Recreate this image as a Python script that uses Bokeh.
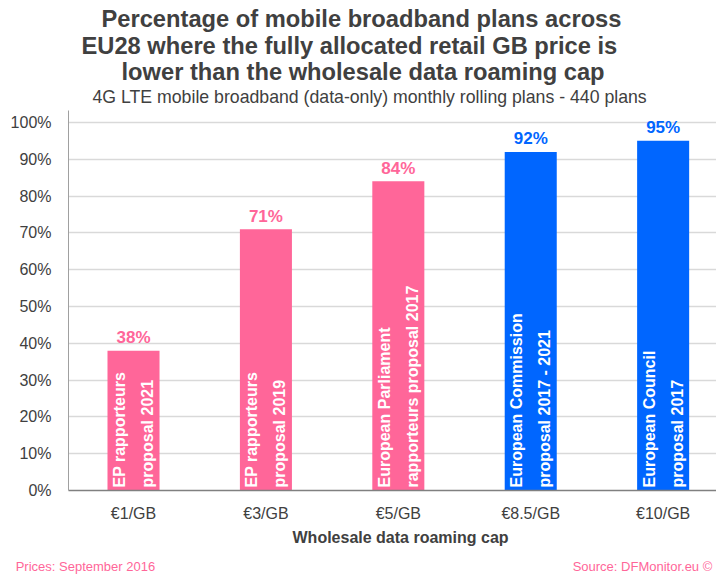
import math
from bokeh.plotting import figure
from bokeh.models import (Range1d, FixedTicker, Title, ColumnDataSource,
                          PrintfTickFormatter, LinearAxis)
from bokeh.core.properties import value
from bokeh.embed import file_html
from bokeh.resources import INLINE

# ---- data ----
categories = ["€1/GB", "€3/GB", "€5/GB", "€8.5/GB", "€10/GB"]
percent_below_cap = [38, 71, 84, 92, 95]
proposal_line1 = ["EP rapporteurs", "EP rapporteurs", "European Parliament",
                  "European Commission", "European Council"]
proposal_line2 = ["proposal  2021", "proposal  2019", "rapporteurs  proposal  2017",
                  "proposal  2017 - 2021", "proposal  2017"]
proposer = ["EP", "EP", "EP", "Commission", "Council"]
y_ticks = [0, 10, 20, 30, 40, 50, 60, 70, 80, 90, 100]
footer_texts = ["Prices: September 2016", "Source: DFMonitor.eu ©"]

PINK = "#FF6699"
BLUE = "#0066FF"
colour_of = {"EP": PINK, "Commission": BLUE, "Council": BLUE}
FONT = "Liberation Sans"
DARK = "#404040"

xs = [i + 0.5 for i in range(len(categories))]
src = ColumnDataSource(dict(
    x=xs,
    y=percent_below_cap,
    color=[colour_of[p] for p in proposer],
    label=[f"{v}%" for v in percent_below_cap],
    inner=[a + "\n" + b for a, b in zip(proposal_line1, proposal_line2)],
    zero=[0] * len(categories),
))

# a little head-room above 100% so the top value label is not clipped
p = figure(width=716, height=576, output_backend="svg", toolbar_location=None,
           x_range=Range1d(0.009, 4.903), y_range=Range1d(0, 103.25),
           min_border_left=68, min_border_right=0, min_border_top=110,
           min_border_bottom=85)
p.outline_line_color = None
p.background_fill_color = "white"
p.border_fill_color = "white"

p.vbar(x="x", top="y", width=0.393, bottom=0, color="color", line_color=None, source=src)

# value labels
p.text(x="x", y="y", text="label", source=src, text_color="color",
       text_font=value(FONT), text_font_style="bold", text_font_size="17px",
       text_align="center", text_baseline="alphabetic", y_offset=-13)

# rotated labels inside bars
p.text(x="x", y="zero", text="inner", source=src, text_color="white",
       text_font=value(FONT), text_font_style="bold", text_font_size="16px",
       angle=math.pi / 2, text_align="left", text_baseline="middle",
       text_line_height=1.65, y_offset=-3)

# axes
p.xaxis.ticker = FixedTicker(ticks=xs)
p.xaxis.major_label_overrides = {x: c for x, c in zip(xs, categories)}
p.xaxis.major_tick_line_color = None
p.xaxis.minor_tick_line_color = None
p.xaxis.axis_line_color = "#808080"
p.xaxis.axis_line_width = 1.5
p.xaxis.major_label_text_font = FONT
p.xaxis.major_label_text_font_size = "16px"
p.xaxis.major_label_text_color = DARK
p.xaxis.major_label_standoff = 8
p.xgrid.grid_line_color = None

p.yaxis.ticker = FixedTicker(ticks=y_ticks)
p.yaxis.formatter = PrintfTickFormatter(format="%d%%")
p.yaxis.major_tick_line_color = None
p.yaxis.minor_tick_line_color = None
p.yaxis.axis_line_color = "#a0a0a0"
p.yaxis.major_label_text_font = FONT
p.yaxis.major_label_text_font_size = "16px"
p.yaxis.major_label_text_color = DARK
p.yaxis.major_label_standoff = 11
p.ygrid.grid_line_color = "#d9d9d9"
p.ygrid.grid_line_width = 1.5

# x axis title (below)
p.add_layout(Title(text="Wholesale data roaming cap", align="left", offset=224,
                   text_font=FONT, text_font_size="16px", text_font_style="bold",
                   text_color=DARK, standoff=4), "below")

# footer line: an unlined axis carrying the two notes
foot_pos = [0.137, 4.344]
foot = LinearAxis(ticker=FixedTicker(ticks=foot_pos),
                  major_label_overrides={x: t for x, t in zip(foot_pos, footer_texts)})
foot.axis_line_color = None
foot.major_tick_line_color = None
foot.minor_tick_line_color = None
foot.major_label_text_font = FONT
foot.major_label_text_font_size = "13px"
foot.major_label_text_color = PINK
foot.major_label_standoff = 5
p.add_layout(foot, "below")

# titles (added inner first); a thin blank spacer sits between frame and subtitle
p.add_layout(Title(text=" ", text_font=FONT, text_font_size="1px", standoff=1), "above")
p.add_layout(Title(text="4G LTE mobile broadband (data-only) monthly rolling plans - 440 plans",
                   align="left", offset=24, text_font=FONT, text_font_size="17.7px",
                   text_font_style="normal", text_color=DARK, standoff=0), "above")
for line, off, so in [("lower than the wholesale data roaming cap", 53, 0),
                      ("EU28 where the fully allocated retail GB price is", 13, -4),
                      ("Percentage of mobile broadband plans across", 33, 2)]:
    p.add_layout(Title(text=line, align="left", offset=off, text_font=FONT,
                       text_font_size="23.7px", text_font_style="bold",
                       text_color=DARK, standoff=so), "above")

open("out.html", "w").write(file_html(p, INLINE))
